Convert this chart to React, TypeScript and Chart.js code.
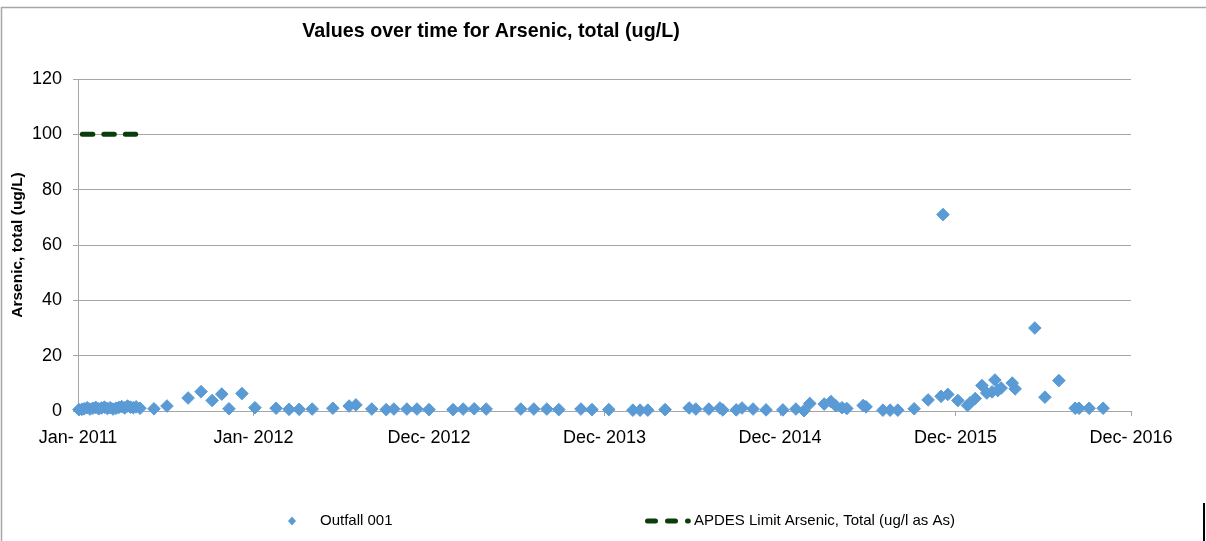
import React, { useEffect, useRef } from 'react';
import { Chart, registerables } from 'chart.js';

Chart.register(...registerables);

const CHART_TITLE = 'Values over time for Arsenic, total (ug/L)';
const Y_TITLE = 'Arsenic, total (ug/L)';
const SERIES_NAMES = ['Outfall 001', 'APDES Limit Arsenic, Total (ug/l as As)'];
const AXIS_START = '2011-01-01';
const X_TICK_DAYS = [0, 365, 730, 1095, 1460, 1825, 2190];
const MONTHS = ['Jan', 'Feb', 'Mar', 'Apr', 'May', 'Jun', 'Jul', 'Aug', 'Sep', 'Oct', 'Nov', 'Dec'];
const Y_MIN = 0;
const Y_MAX = 120;
const Y_STEP = 20;

const outfallDates = [
  '2011-01-03', '2011-01-09', '2011-01-14', '2011-01-20', '2011-01-26', '2011-02-01', '2011-02-07',
  '2011-02-13', '2011-02-19', '2011-02-25', '2011-03-03', '2011-03-09', '2011-03-15', '2011-03-21',
  '2011-03-27', '2011-04-02', '2011-04-08', '2011-04-14', '2011-04-20', '2011-04-26', '2011-05-02',
  '2011-05-10', '2011-06-08', '2011-07-05', '2011-08-18', '2011-09-14', '2011-10-07', '2011-10-27',
  '2011-11-11', '2011-12-08', '2012-01-04', '2012-02-17', '2012-03-15', '2012-04-05', '2012-05-02',
  '2012-06-14', '2012-07-18', '2012-08-01', '2012-09-03', '2012-10-03', '2012-10-19', '2012-11-15',
  '2012-12-06', '2012-12-31', '2013-02-19', '2013-03-12', '2013-04-04', '2013-04-29', '2013-07-10',
  '2013-08-06', '2013-09-02', '2013-09-27', '2013-11-12', '2013-12-05', '2014-01-09', '2014-02-28',
  '2014-03-15', '2014-03-31', '2014-05-06', '2014-06-25', '2014-07-09', '2014-08-05', '2014-08-28',
  '2014-09-03', '2014-10-01', '2014-10-13', '2014-11-05', '2014-12-02', '2015-01-06', '2015-02-02',
  '2015-02-19', '2015-03-03', '2015-04-02', '2015-04-16', '2015-04-26', '2015-05-09', '2015-05-19',
  '2015-06-22', '2015-06-28', '2015-08-02', '2015-08-17', '2015-09-02', '2015-10-06', '2015-11-04',
  '2015-12-01', '2015-12-05', '2015-12-15', '2016-01-05', '2016-01-25', '2016-01-30', '2016-02-10',
  '2016-02-24', '2016-03-05', '2016-03-16', '2016-03-22', '2016-03-28', '2016-04-04', '2016-04-27',
  '2016-05-03', '2016-06-13', '2016-07-04', '2016-08-02', '2016-09-05', '2016-09-13', '2016-10-04',
  '2016-11-02',
];
const outfallValues = [
  0.5, 0.6, 0.8, 1.2, 0.7, 1.0, 1.3,
  0.8, 1.1, 1.4, 0.9, 1.2, 0.7, 1.0,
  1.3, 1.6, 1.1, 1.8, 1.4, 1.2, 1.5,
  1.0, 0.8, 1.8, 4.7, 7.0, 3.8, 6.1,
  0.8, 6.3, 1.2, 1.0, 0.6, 0.6, 0.7,
  1.0, 1.8, 2.2, 0.7, 0.5, 0.7, 0.7,
  0.7, 0.5, 0.5, 0.7, 0.8, 0.7, 0.7,
  0.7, 0.7, 0.5, 0.7, 0.5, 0.5, 0.3,
  0.3, 0.3, 0.5, 1.1, 0.7, 0.7, 1.1,
  0.4, 0.4, 1.1, 0.7, 0.4, 0.4, 0.7,
  0.1, 2.7, 2.5, 3.4, 1.9, 1.2, 0.9,
  2.0, 1.5, 0.3, 0.3, 0.3, 0.8, 4.0,
  5.3, 71, 6.0, 3.8, 2.0, 2.9, 4.5,
  9.2, 6.5, 6.9, 11.2, 7.4, 8.3, 10.1,
  8.0, 30, 5.0, 11.0, 1.0, 1.0, 1.0,
  1.0,
];

const limitDates = ['2011-01-10', '2011-05-01'];
const limitValues = [100, 100];

const POINT_COLOR = '#5b9bd5';
const LIMIT_COLOR = '#0b3d0b';
const GRID_COLOR = '#a6a6a6';
const FONT = '"Liberation Sans", Arial, sans-serif';

const DAY_MS = 86400000;
const toUTC = (s: string) => {
  const [y, m, d] = s.split('-').map(Number);
  return Date.UTC(y, m - 1, d);
};
const START_MS = toUTC(AXIS_START);
const toDay = (s: string) => Math.round((toUTC(s) - START_MS) / DAY_MS);
const dayLabel = (d: number) => {
  const dt = new Date(START_MS + d * DAY_MS);
  return `${MONTHS[dt.getUTCMonth()]}- ${dt.getUTCFullYear()}`;
};

const decorPlugin = {
  id: 'decor',
  beforeDraw(chart: any) {
    const { ctx, width, height } = chart;
    ctx.save();
    ctx.fillStyle = '#ffffff';
    ctx.fillRect(0, 0, width, height);
    ctx.strokeStyle = GRID_COLOR;
    ctx.lineWidth = 1.5;
    ctx.beginPath();
    ctx.moveTo(1.5, height);
    ctx.lineTo(1.5, 7.5);
    ctx.lineTo(width, 7.5);
    ctx.stroke();
    ctx.strokeStyle = '#000000';
    ctx.lineWidth = 2;
    ctx.beginPath();
    ctx.moveTo(1204, 503);
    ctx.lineTo(1204, height);
    ctx.stroke();
    ctx.restore();
  },
  afterDraw(chart: any) {
    const { ctx } = chart;
    ctx.save();
    // Title
    ctx.fillStyle = '#000000';
    ctx.font = `bold 19.7px ${FONT}`;
    ctx.textAlign = 'center';
    ctx.textBaseline = 'middle';
    ctx.fillText(CHART_TITLE, 491, 32);

    // Legend
    const ly = 521;
    ctx.font = `15px ${FONT}`;
    ctx.textAlign = 'left';
    ctx.fillStyle = POINT_COLOR;
    ctx.beginPath();
    ctx.moveTo(292 - 4, ly);
    ctx.lineTo(292, ly - 4.5);
    ctx.lineTo(292 + 4, ly);
    ctx.lineTo(292, ly + 4.5);
    ctx.closePath();
    ctx.fill();
    ctx.fillStyle = '#000000';
    ctx.fillText(SERIES_NAMES[0], 320, ly);

    ctx.strokeStyle = LIMIT_COLOR;
    ctx.lineWidth = 5;
    ctx.lineCap = 'round';
    ctx.setLineDash([8, 12]);
    ctx.beginPath();
    ctx.moveTo(647.5, ly);
    ctx.lineTo(688.3, ly);
    ctx.stroke();
    ctx.setLineDash([]);
    ctx.fillStyle = '#000000';
    ctx.fillText(SERIES_NAMES[1], 694, ly);
    ctx.restore();
  },
};

export default function App() {
  const canvasRef = useRef<HTMLCanvasElement | null>(null);

  useEffect(() => {
    const canvas = canvasRef.current;
    if (!canvas) return;
    const outfallData = outfallDates.map((d, i) => ({ x: toDay(d), y: outfallValues[i] }));
    const limitData = limitDates.map((d, i) => ({ x: toDay(d), y: limitValues[i] }));

    const chart = new Chart(canvas, {
      type: 'scatter',
      data: {
        datasets: [
          {
            label: SERIES_NAMES[1],
            data: limitData,
            showLine: true,
            borderColor: LIMIT_COLOR,
            backgroundColor: LIMIT_COLOR,
            borderWidth: 5,
            borderDash: [10.5, 11],
            borderCapStyle: 'round',
            pointRadius: 0,
            pointHoverRadius: 0,
            clip: false,
          } as any,
          {
            label: SERIES_NAMES[0],
            data: outfallData,
            pointStyle: 'rectRot',
            pointRadius: 6.3,
            pointHoverRadius: 6.3,
            backgroundColor: POINT_COLOR,
            borderColor: POINT_COLOR,
            borderWidth: 1,
            showLine: false,
            clip: false,
          } as any,
        ],
      },
      options: {
        responsive: false,
        animation: false,
        events: [],
        layout: { padding: { top: 79, right: 75, bottom: 0, left: 0 } },
        plugins: {
          legend: { display: false },
          title: { display: false },
          tooltip: { enabled: false },
        },
        scales: {
          x: {
            type: 'linear',
            min: X_TICK_DAYS[0],
            max: X_TICK_DAYS[X_TICK_DAYS.length - 1],
            afterBuildTicks: (scale: any) => {
              scale.ticks = X_TICK_DAYS.map((v) => ({ value: v }));
            },
            afterFit: (scale: any) => {
              scale.height = 130;
            },
            ticks: {
              autoSkip: false,
              maxRotation: 0,
              minRotation: 0,
              padding: 11,
              color: '#000000',
              font: { family: FONT, size: 18 },
              callback: (v: any) => dayLabel(Number(v)),
            },
            grid: {
              drawOnChartArea: false,
              drawTicks: true,
              tickLength: 5,
              color: GRID_COLOR,
              tickColor: GRID_COLOR,
            },
            border: { color: GRID_COLOR, width: 1 },
          },
          y: {
            type: 'linear',
            min: Y_MIN,
            max: Y_MAX,
            afterFit: (scale: any) => {
              scale.width = 78;
            },
            ticks: {
              stepSize: Y_STEP,
              padding: 11,
              color: '#000000',
              font: { family: FONT, size: 18 },
            },
            grid: {
              color: GRID_COLOR,
              tickColor: GRID_COLOR,
              tickLength: 5,
              lineWidth: 1,
            },
            border: { color: GRID_COLOR, width: 1 },
            title: {
              display: true,
              text: Y_TITLE,
              color: '#000000',
              font: { family: FONT, size: 15.5, weight: 'bold' },
              padding: { top: 8, bottom: 0 },
            },
          },
        },
      },
      plugins: [decorPlugin],
    } as any);

    return () => chart.destroy();
  }, []);

  return (
    <div style={{ position: 'absolute', left: 0, top: 0, width: 1206, height: 541, background: '#fff' }}>
      <canvas ref={canvasRef} width={1206} height={541} style={{ display: 'block', width: 1206, height: 541 }} />
    </div>
  );
}
